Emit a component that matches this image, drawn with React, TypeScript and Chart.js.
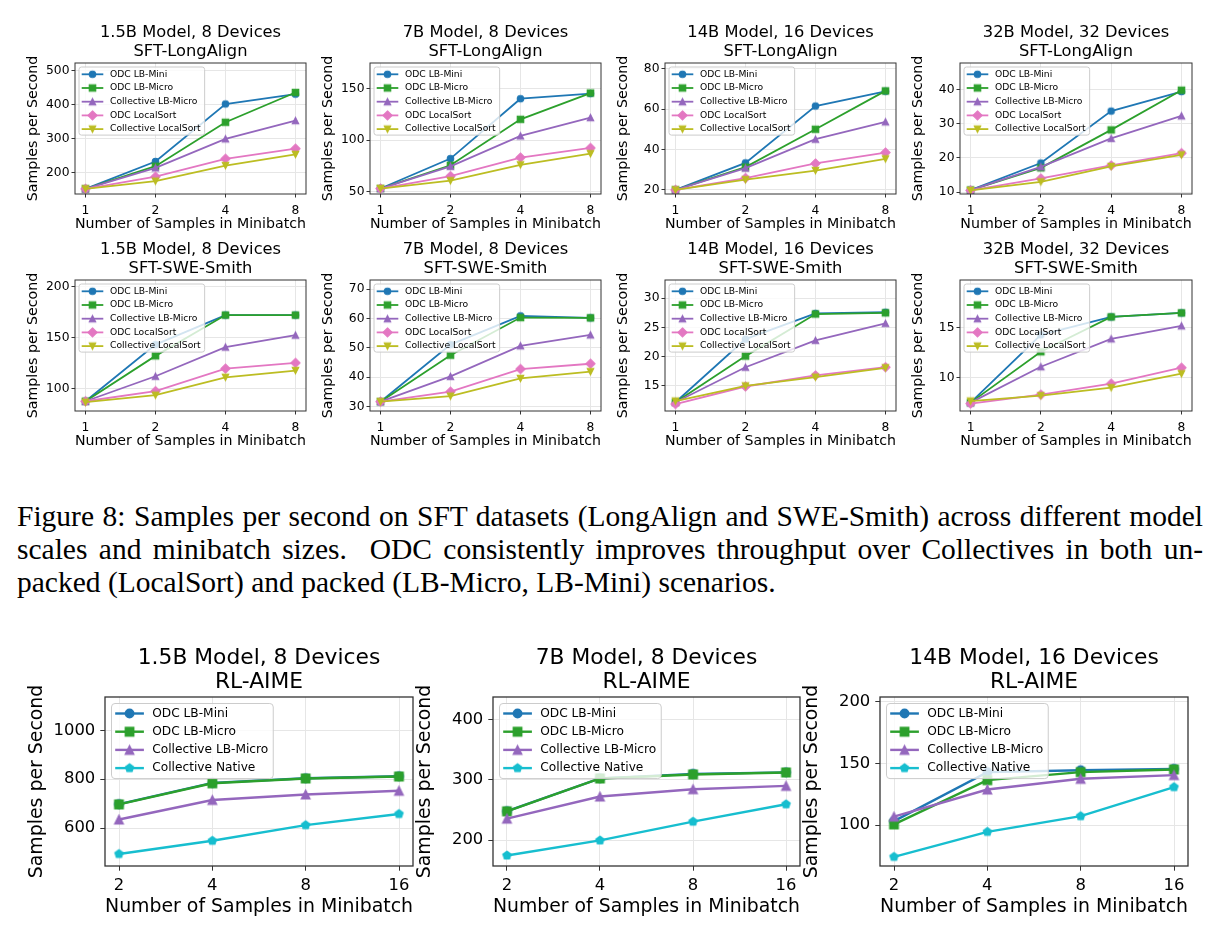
import React, { useEffect, useRef } from 'react';
import { Chart, registerables } from 'chart.js';
Chart.register(...registerables);

const FONT = "'DejaVu Sans', sans-serif";

// ---------- series / labels ----------
const sftSeries = ['ODC LB-Mini', 'ODC LB-Micro', 'Collective LB-Micro', 'ODC LocalSort', 'Collective LocalSort'];
const sftColors = ['#1f77b4', '#2ca02c', '#9467bd', '#e377c2', '#bcbd22'];
const sftMarkers = ['o', 's', '^', 'D', 'v'];
const rlSeries = ['ODC LB-Mini', 'ODC LB-Micro', 'Collective LB-Micro', 'Collective Native'];
const rlColors = ['#1f77b4', '#2ca02c', '#9467bd', '#17becf'];
const rlMarkers = ['o', 's', '^', 'p'];
const sftXLabels = ['1', '2', '4', '8'];
const rlXLabels = ['2', '4', '8', '16'];
const xAxisTitle = 'Number of Samples in Minibatch';
const yAxisTitle = 'Samples per Second';

// ---------- values (rows follow the series order) ----------
const longAlign1_5B = [
  [151, 232, 402, 431],
  [151, 218, 348, 436],
  [151, 213, 299, 353],
  [151, 187, 240, 270],
  [151, 174, 220, 253],
];
const longAlign7B = [
  [53, 82, 140, 145],
  [53, 75.5, 120, 145.5],
  [53, 74.5, 104, 121.7],
  [53, 65, 83, 92.3],
  [53, 60.6, 76, 86.8],
];
const longAlign14B = [
  [20, 33.4, 61.5, 68.8],
  [20, 31.3, 50, 69],
  [20, 30.8, 45.1, 53.7],
  [20, 25.9, 33.1, 38.5],
  [20, 25.1, 29.6, 35.4],
];
const longAlign32B = [
  [10.6, 18.5, 33.7, 39.4],
  [10.6, 17.1, 28.2, 39.8],
  [10.6, 17.4, 25.7, 32.3],
  [10.5, 14, 17.8, 21.4],
  [10.5, 13, 17.5, 20.9],
];
const sweSmith1_5B = [
  [87.5, 143, 172, 172],
  [87.5, 132, 172, 172],
  [87.5, 112, 140.6, 152.3],
  [87.5, 97.4, 119.5, 125.1],
  [86.6, 93.5, 111, 117.6],
];
const sweSmith7B = [
  [31.7, 51.1, 60.9, 60.2],
  [31.7, 47.5, 60.3, 60.2],
  [31.7, 40.3, 50.7, 54.4],
  [31.7, 35.1, 42.8, 44.6],
  [31.7, 33.6, 39.6, 41.9],
];
const sweSmith14B = [
  [12.2, 23, 27.4, 27.6],
  [12.2, 20.1, 27.3, 27.5],
  [12.2, 18.2, 22.8, 25.7],
  [11.9, 14.9, 16.8, 18.2],
  [12.4, 15.0, 16.5, 18.1],
];
const sweSmith32B = [
  [7.5, 14.3, 16.1, 16.5],
  [7.5, 12.6, 16.1, 16.5],
  [7.5, 11.1, 13.9, 15.2],
  [7.4, 8.3, 9.4, 11.0],
  [7.66, 8.2, 9.0, 10.4],
];
const aime1_5B = [
  [698, 785, 804, 812],
  [697, 783.5, 803, 811],
  [635, 715, 737.6, 752.6],
  [494, 548, 612, 657.7],
];
const aime7B = [
  [248, 302.5, 310, 312.5],
  [247.8, 302.3, 309, 312.3],
  [235.6, 272.3, 284.5, 290],
  [174.5, 199.5, 230.6, 259.5],
];
const aime14B = [
  [103.3, 143, 144.6, 145.7],
  [100.6, 136.5, 143, 145.2],
  [106.9, 128.9, 137.6, 140.6],
  [74.3, 94.6, 107.3, 130.9],
];

// ---------- style presets ----------
const small = {
  titleSize: 16.3, titleLH: 19, labelSize: 14.2, labelLH: 17, tickSize: 12.3,
  legendSize: 9.2, legendRow: 13.7, legendInset: 4, legendPadTop: 7.3, legendPadBottom: 6,
  legendLineX0: 2.7, legendLineX1: 24.3, legendTextX: 31, legendPadRight: 4, legendRadius: 2.5,
  ms: 6.5, ew: 1.1, lw: 1.8, TT: 40, titlePadBottom: 2, AXL: 50, AXB: 39, PR: 6,
  tickLen: 3.5, xTickPad: 5.5, yTickPad: 2, frameW: 1, topFactor: 1.2,
};
const large = {
  titleSize: 21.8, titleLH: 24.5, labelSize: 18.9, labelLH: 22.7, tickSize: 16.4,
  legendSize: 12.2, legendRow: 18.2, legendInset: 6.5, legendPadTop: 10, legendPadBottom: 10.5,
  legendLineX0: 3.7, legendLineX1: 32.4, legendTextX: 40.7, legendPadRight: 5, legendRadius: 3.5,
  ms: 8.4, ew: 1.4, lw: 2.4, TT: 51, titlePadBottom: 2, AXL: 79, AXB: 52, PR: 8,
  tickLen: 4.7, xTickPad: 5, yTickPad: 5, frameW: 1.3, topFactor: 1.4,
};

const charts = [
  { title: ['1.5B Model, 8 Devices', 'SFT-LongAlign'], values: longAlign1_5B, step: 100, plot: [75, 63, 306, 194], kind: 'sft' },
  { title: ['7B Model, 8 Devices', 'SFT-LongAlign'], values: longAlign7B, step: 50, plot: [370, 63, 601, 194], kind: 'sft' },
  { title: ['14B Model, 16 Devices', 'SFT-LongAlign'], values: longAlign14B, step: 20, plot: [665, 63, 896, 194], kind: 'sft' },
  { title: ['32B Model, 32 Devices', 'SFT-LongAlign'], values: longAlign32B, step: 10, plot: [960, 63, 1192, 194], kind: 'sft' },
  { title: ['1.5B Model, 8 Devices', 'SFT-SWE-Smith'], values: sweSmith1_5B, step: 50, plot: [75, 280, 306, 411], kind: 'sft' },
  { title: ['7B Model, 8 Devices', 'SFT-SWE-Smith'], values: sweSmith7B, step: 10, plot: [370, 280, 601, 411], kind: 'sft' },
  { title: ['14B Model, 16 Devices', 'SFT-SWE-Smith'], values: sweSmith14B, step: 5, plot: [665, 280, 896, 411], kind: 'sft' },
  { title: ['32B Model, 32 Devices', 'SFT-SWE-Smith'], values: sweSmith32B, step: 5, plot: [960, 280, 1192, 411], kind: 'sft' },
  { title: ['1.5B Model, 8 Devices', 'RL-AIME'], values: aime1_5B, step: 200, plot: [105, 697, 413, 866], kind: 'rl' },
  { title: ['7B Model, 8 Devices', 'RL-AIME'], values: aime7B, step: 100, plot: [493, 697, 800, 866], kind: 'rl' },
  { title: ['14B Model, 16 Devices', 'RL-AIME'], values: aime14B, step: 50, plot: [880, 697, 1188, 866], kind: 'rl' },
];

function makeMarker(shape: string, color: string, ms: number, ew: number) {
  const size = Math.ceil(ms * 1.6 + ew * 2 + 2);
  const c = document.createElement('canvas');
  c.width = size;
  c.height = size;
  const g = c.getContext('2d')!;
  const cx = size / 2, cy = size / 2, r = ms / 2;
  g.beginPath();
  if (shape === 'o') g.arc(cx, cy, r, 0, Math.PI * 2);
  else if (shape === 's') g.rect(cx - r, cy - r, 2 * r, 2 * r);
  else if (shape === '^') { g.moveTo(cx, cy - r); g.lineTo(cx - r, cy + r); g.lineTo(cx + r, cy + r); g.closePath(); }
  else if (shape === 'v') { g.moveTo(cx, cy + r); g.lineTo(cx - r, cy - r); g.lineTo(cx + r, cy - r); g.closePath(); }
  else if (shape === 'D') { const d = r * Math.SQRT2; g.moveTo(cx, cy - d); g.lineTo(cx + d, cy); g.lineTo(cx, cy + d); g.lineTo(cx - d, cy); g.closePath(); }
  else if (shape === 'p') {
    for (let k = 0; k < 5; k++) {
      const a = -Math.PI / 2 + (k * 2 * Math.PI) / 5;
      const px = cx + r * Math.cos(a), py = cy + r * Math.sin(a);
      if (k === 0) g.moveTo(px, py); else g.lineTo(px, py);
    }
    g.closePath();
  }
  g.fillStyle = color;
  g.fill();
  g.strokeStyle = color;
  g.lineWidth = ew;
  g.stroke();
  return c;
}

const framePlugin = {
  id: 'frame',
  afterDatasetsDraw(chart: any, _a: any, o: any) {
    const { ctx, chartArea: a } = chart;
    ctx.save();
    ctx.strokeStyle = o.color;
    ctx.lineWidth = o.width;
    ctx.strokeRect(a.left, a.top, a.right - a.left, a.bottom - a.top);
    ctx.restore();
  },
};

const legendPlugin = {
  id: 'mplLegend',
  afterDraw(chart: any, _a: any, o: any) {
    const { ctx, chartArea: a } = chart;
    const ds = chart.data.datasets;
    ctx.save();
    ctx.font = `${o.fontSize}px ${FONT}`;
    const maxW = Math.max(...ds.map((d: any) => ctx.measureText(d.label).width));
    const x0 = a.left + o.inset, y0 = a.top + o.inset;
    const w = o.textX + maxW + o.padRight;
    const h = o.padTop + (ds.length - 1) * o.rowH + o.padBottom;
    ctx.beginPath();
    if (ctx.roundRect) ctx.roundRect(x0, y0, w, h, o.radius); else ctx.rect(x0, y0, w, h);
    ctx.fillStyle = 'rgba(255,255,255,0.8)';
    ctx.fill();
    ctx.strokeStyle = '#cccccc';
    ctx.lineWidth = 1;
    ctx.stroke();
    ds.forEach((d: any, i: number) => {
      const cy = y0 + o.padTop + i * o.rowH;
      ctx.strokeStyle = d.borderColor;
      ctx.lineWidth = d.borderWidth;
      ctx.beginPath();
      ctx.moveTo(x0 + o.lineX0, cy);
      ctx.lineTo(x0 + o.lineX1, cy);
      ctx.stroke();
      const img = d.pointStyle;
      ctx.drawImage(img, x0 + (o.lineX0 + o.lineX1) / 2 - img.width / 2, cy - img.height / 2);
      ctx.fillStyle = '#000';
      ctx.textBaseline = 'middle';
      ctx.textAlign = 'left';
      ctx.fillText(d.label, x0 + o.textX, cy);
    });
    ctx.restore();
  },
};

function PlotPanel({ spec }: { spec: any }) {
  const ref = useRef<HTMLCanvasElement>(null);
  const st = spec.kind === 'sft' ? small : large;
  const [pl, pt, pr, pb] = spec.plot;
  const width = pr - pl + st.AXL + st.PR;
  const height = st.TT + (pb - pt) + st.AXB;

  useEffect(() => {
    const names = spec.kind === 'sft' ? sftSeries : rlSeries;
    const colors = spec.kind === 'sft' ? sftColors : rlColors;
    const markers = spec.kind === 'sft' ? sftMarkers : rlMarkers;
    const xLabels = spec.kind === 'sft' ? sftXLabels : rlXLabels;
    const all = spec.values.flat();
    const yMin = Math.min(...all) * 0.9;
    const yMax = Math.max(...all) * st.topFactor;
    const n = names.length;
    const datasets = names.map((name: string, i: number) => ({
      label: name,
      data: spec.values[i].map((v: number, j: number) => ({ x: j, y: v })),
      borderColor: colors[i],
      backgroundColor: colors[i],
      borderWidth: st.lw,
      pointStyle: makeMarker(markers[i], colors[i], st.ms, st.ew),
      pointRadius: 3,
      pointHoverRadius: 3,
      tension: 0,
      fill: false,
      order: n - i,
    }));
    const grid = { color: '#e6e6e6', lineWidth: 1, drawTicks: true, tickLength: st.tickLen, tickColor: '#333', tickWidth: 1 };
    const chart = new Chart(ref.current!, {
      type: 'line',
      data: { datasets },
      options: {
        responsive: false,
        animation: false,
        events: [],
        layout: { padding: { left: 0, top: 0, right: st.PR, bottom: 0 }, autoPadding: false },
        plugins: {
          legend: { display: false },
          tooltip: { enabled: false },
          title: {
            display: true,
            text: spec.title,
            fullSize: false,
            color: '#000',
            font: { family: FONT, size: st.titleSize, weight: 'normal', lineHeight: `${st.titleLH}px` },
            padding: { top: 0, bottom: st.titlePadBottom },
          },
          frame: { color: '#333', width: st.frameW },
          mplLegend: {
            fontSize: st.legendSize, rowH: st.legendRow, inset: st.legendInset, padTop: st.legendPadTop,
            padBottom: st.legendPadBottom, lineX0: st.legendLineX0, lineX1: st.legendLineX1,
            textX: st.legendTextX, padRight: st.legendPadRight, radius: st.legendRadius,
          },
        } as any,
        scales: {
          x: {
            type: 'linear',
            min: -0.15,
            max: 3.15,
            bounds: 'data',
            afterBuildTicks: (s: any) => { s.ticks = xLabels.map((_l: string, i: number) => ({ value: i })); },
            ticks: {
              autoSkip: false,
              maxRotation: 0,
              color: '#000',
              padding: st.xTickPad,
              font: { family: FONT, size: st.tickSize },
              callback: (v: any) => xLabels[Math.round(v)] ?? '',
            },
            grid,
            border: { display: false },
            title: {
              display: true,
              text: xAxisTitle,
              color: '#000',
              font: { family: FONT, size: st.labelSize, lineHeight: `${st.labelLH}px` },
              padding: { top: 0, bottom: 0 },
            },
            afterFit: (s: any) => { s.height = st.AXB; },
          },
          y: {
            type: 'linear',
            min: yMin,
            max: yMax,
            bounds: 'data',
            afterBuildTicks: (s: any) => {
              const t: any[] = [];
              for (let v = Math.ceil(yMin / spec.step) * spec.step; v <= yMax + 1e-9; v += spec.step) {
                t.push({ value: +v.toFixed(6) });
              }
              s.ticks = t;
            },
            ticks: {
              color: '#000',
              padding: st.yTickPad,
              font: { family: FONT, size: st.tickSize },
              callback: (v: any) => String(v),
            },
            grid,
            border: { display: false },
            title: {
              display: true,
              text: yAxisTitle,
              color: '#000',
              font: { family: FONT, size: st.labelSize, lineHeight: `${st.labelLH}px` },
              padding: { top: 0, bottom: 0 },
            },
            afterFit: (s: any) => { s.width = st.AXL; },
          },
        } as any,
      },
      plugins: [framePlugin, legendPlugin],
    } as any);
    return () => chart.destroy();
  }, []);

  return (
    <div style={{ position: 'absolute', left: pl - st.AXL, top: pt - st.TT, width, height }}>
      <canvas ref={ref} width={width} height={height} style={{ display: 'block' }} />
    </div>
  );
}

export default function App() {
  const lineStyle: React.CSSProperties = { textAlign: 'justify', textAlignLast: 'justify' as any, whiteSpace: 'normal' };
  return (
    <div style={{ position: 'absolute', left: 0, top: 0, width: 1219, height: 937, background: '#fff', overflow: 'hidden' }}>
      {charts.map((c, i) => <PlotPanel key={i} spec={c} />)}
      <div
        style={{
          position: 'absolute', left: 17, top: 500, width: 1186,
          fontFamily: "'Liberation Serif', 'Times New Roman', serif", fontSize: 29.5, lineHeight: '33px', color: '#000',
        }}
      >
        <div style={lineStyle}>Figure 8: Samples per second on SFT datasets (LongAlign and SWE-Smith) across different model</div>
        <div style={lineStyle}>scales and minibatch sizes.&nbsp; ODC consistently improves throughput over Collectives in both un-</div>
        <div>packed (LocalSort) and packed (LB-Micro, LB-Mini) scenarios.</div>
      </div>
    </div>
  );
}
